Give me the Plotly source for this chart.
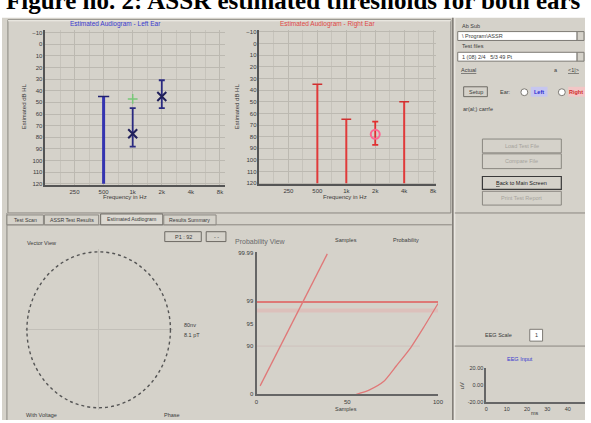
import math
import plotly.graph_objects as go

W, H = 591, 423

# ---------------- data ----------------
freq_labels = ["250", "500", "1k", "2k", "4k", "8k"]
freqs_hz = [250, 500, 1000, 2000, 4000, 8000]
half_octaves = [177, 354, 707, 1414, 2828, 5657]
db_ticks = [-10, 0, 10, 20, 30, 40, 50, 60, 70, 80, 90, 100, 110, 120]
db_floor = 120

# Left ear
left_nr_freqs = [500]
left_nr_levels = [45]
left_thr_freqs = [1000, 2000]
left_thr_levels = [77, 45]
left_err_plus = [11, 10]
left_err_minus = [22, 14]
left_aux_freqs = [1000]
left_aux_levels = [47]

# Right ear
right_nr_freqs = [500, 1000, 4000]
right_nr_levels = [35, 65, 50]
right_thr_freqs = [2000]
right_thr_levels = [78]
right_err_plus = [9]
right_err_minus = [11]

# Probability view
prob_ticktext = ["0", "90", "95", "99", "99.99"]
prob_tickvals = [0, 34, 50, 66, 100]
prob_x_ticks = [0, 50, 100]
samples_x = [2, 39]
samples_y = [6, 99]
curve_x = [55, 62, 70, 77, 85, 92, 100]
curve_y = [0, 3, 9, 20, 33, 47, 64]
prob_threshold = 65

# EEG input
eeg_y_ticks = [-20, 0, 20]
eeg_y_text = ["-20.00", "0.00", "20.00"]
eeg_x_ticks = [0, 10, 20, 30, 40, 50]

# Vector view
vector_radius = 0.97

# ---------------- helpers ----------------
def px(x):
    return x / W


def py(y):
    return 1 - y / H


def stems(xs, ys):
    sx, sy = [], []
    for x, y in zip(xs, ys):
        sx += [x, x, None]
        sy += [db_floor, y, None]
    return sx, sy


GREY = "#d5d2ca"
AX = "#555555"
TXT = "#3a3a3a"
FONT = "Liberation Sans"

fig = go.Figure()

# ---------- left audiogram ----------
sx, sy = stems(left_nr_freqs, left_nr_levels)
fig.add_trace(go.Scatter(x=sx, y=sy, mode="lines", line=dict(color="#3434b0", width=3),
                         xaxis="x", yaxis="y", hoverinfo="skip"))
fig.add_trace(go.Scatter(x=left_nr_freqs, y=left_nr_levels, mode="markers",
                         marker=dict(symbol="line-ew", size=8, line=dict(color="#202070", width=1.5)),
                         xaxis="x", yaxis="y"))
fig.add_trace(go.Scatter(x=left_aux_freqs, y=left_aux_levels, mode="markers",
                         marker=dict(symbol="cross-thin", size=7, line=dict(color="#78c878", width=1.5)),
                         xaxis="x", yaxis="y"))
fig.add_trace(go.Scatter(x=left_thr_freqs, y=left_thr_levels, mode="markers",
                         marker=dict(symbol="x-thin", size=9, line=dict(color="#20205a", width=2)),
                         error_y=dict(type="data", array=left_err_plus, arrayminus=left_err_minus,
                                      color="#2a2a80", thickness=1.8, width=3),
                         xaxis="x", yaxis="y"))

# ---------- right audiogram ----------
sx, sy = stems(right_nr_freqs, right_nr_levels)
fig.add_trace(go.Scatter(x=sx, y=sy, mode="lines", line=dict(color="#e03a3a", width=2),
                         xaxis="x2", yaxis="y2", hoverinfo="skip"))
fig.add_trace(go.Scatter(x=right_nr_freqs, y=right_nr_levels, mode="markers",
                         marker=dict(symbol="line-ew", size=7, line=dict(color="#d03030", width=1.5)),
                         xaxis="x2", yaxis="y2"))
fig.add_trace(go.Scatter(x=right_thr_freqs, y=right_thr_levels, mode="markers",
                         marker=dict(symbol="circle-open", size=9, line=dict(color="#e03030", width=2)),
                         error_y=dict(type="data", array=right_err_plus, arrayminus=right_err_minus,
                                      color="#e03030", thickness=1.8, width=3),
                         xaxis="x2", yaxis="y2"))

# ---------- probability view ----------
fig.add_trace(go.Scatter(x=[0, 100], y=[prob_threshold, prob_threshold], mode="lines",
                         line=dict(color="#e05a5a", width=1.5), xaxis="x3", yaxis="y3"))
fig.add_trace(go.Scatter(x=[0, 100], y=[prob_threshold - 6, prob_threshold - 6], mode="lines",
                         line=dict(color="rgba(235,160,160,0.35)", width=4), xaxis="x3", yaxis="y3"))
fig.add_trace(go.Scatter(x=[0, 90], y=[prob_tickvals[1], prob_tickvals[1]], mode="lines",
                         line=dict(color="rgba(200,170,170,0.45)", width=1), xaxis="x3", yaxis="y3"))
fig.add_trace(go.Scatter(x=samples_x, y=samples_y, mode="lines",
                         line=dict(color="#e07878", width=1.3), xaxis="x3", yaxis="y3"))
fig.add_trace(go.Scatter(x=curve_x, y=curve_y, mode="lines", line_shape="spline",
                         line=dict(color="#e07878", width=1.3, smoothing=0.6), xaxis="x3", yaxis="y3"))

# ---------- EEG input (empty) ----------
fig.add_trace(go.Scatter(x=[None], y=[None], mode="lines", xaxis="x4", yaxis="y4"))
# ---------- vector view anchor ----------
fig.add_trace(go.Scatter(x=[None], y=[None], mode="lines", xaxis="x5", yaxis="y5"))

tickfont = dict(family=FONT, size=6, color=TXT)
aud_x = dict(type="log", tickvals=freqs_hz, ticktext=freq_labels, showline=True, linecolor=AX,
             linewidth=1.5, showgrid=True, gridcolor="#bcb9b1", gridwidth=1, ticks="",
             tickfont=tickfont, zeroline=False,
             minor=dict(tickvals=half_octaves, showgrid=True, gridcolor="#c6c3bb", gridwidth=1))
aud_y = dict(tickvals=db_ticks, showline=True, linecolor=AX, linewidth=1.5, showgrid=True,
             gridcolor="#bcb9b1", gridwidth=1, ticks="", tickfont=tickfont, zeroline=False)

fig.update_layout(
    width=W, height=H, margin=dict(l=0, r=0, t=0, b=0),
    paper_bgcolor="white", plot_bgcolor="rgba(0,0,0,0)", showlegend=False,
    xaxis=dict(aud_x, domain=[px(44), px(226)], range=[math.log10(125), math.log10(9000)], anchor="y"),
    yaxis=dict(aud_y, domain=[py(185), py(27)], range=[121.3, -12.5], anchor="x"),
    xaxis2=dict(aud_x, domain=[px(261), px(440)], range=[math.log10(125), math.log10(8580)], anchor="y2"),
    yaxis2=dict(aud_y, domain=[py(184), py(27)], range=[121, -12], anchor="x2"),
    xaxis3=dict(domain=[px(258), px(442)], range=[0, 100], anchor="y3", showgrid=False, zeroline=False,
                showline=True, linecolor="#666666", linewidth=2, tickvals=prob_x_ticks,
                ticks="", tickfont=tickfont),
    yaxis3=dict(domain=[py(397), py(253)], range=[0, 100], anchor="x3", showgrid=False, zeroline=False,
                showline=True, linecolor="#666666", linewidth=2, tickvals=prob_tickvals,
                ticktext=prob_ticktext, ticks="", tickfont=tickfont),
    xaxis4=dict(domain=[px(491), px(591)], range=[0, 48.5], anchor="y4", showgrid=False, zeroline=False,
                showline=True, linecolor="#666666", linewidth=2, tickvals=eeg_x_ticks, ticks="",
                tickfont=dict(family=FONT, size=5.5, color=TXT)),
    yaxis4=dict(domain=[py(405), py(370)], range=[-20, 20], anchor="x4", showgrid=False, zeroline=False,
                showline=True, linecolor="#666666", linewidth=2, tickvals=eeg_y_ticks,
                ticktext=eeg_y_text, ticks="", tickfont=dict(family=FONT, size=5.5, color=TXT)),
    xaxis5=dict(domain=[px(23), px(173)], range=[-1, 1], anchor="y5", showgrid=False, showline=False,
                showticklabels=False, zeroline=True, zerolinecolor="#c2bfb8", zerolinewidth=1),
    yaxis5=dict(domain=[py(413), py(250)], range=[-1, 1], anchor="x5", showgrid=False, showline=False,
                showticklabels=False, zeroline=True, zerolinecolor="#c2bfb8", zerolinewidth=1),
)

shapes = []


def rect(x0, y0, x1, y1, fill=None, line="#808080", lw=1, layer="below"):
    shapes.append(dict(type="rect", xref="paper", yref="paper", x0=px(x0), x1=px(x1),
                       y0=py(y1), y1=py(y0), fillcolor=fill or "rgba(0,0,0,0)",
                       line=dict(color=line, width=lw), layer=layer))


def hline(x0, x1, y, color="#808080", lw=1):
    shapes.append(dict(type="line", xref="paper", yref="paper", x0=px(x0), x1=px(x1),
                       y0=py(y), y1=py(y), line=dict(color=color, width=lw), layer="below"))


def vline(x, y0, y1, color="#808080", lw=1):
    shapes.append(dict(type="line", xref="paper", yref="paper", x0=px(x), x1=px(x),
                       y0=py(y0), y1=py(y1), line=dict(color=color, width=lw), layer="below"))


# background window
rect(0, 15, 591, 423, fill=GREY, line="rgba(0,0,0,0)", lw=0)
# upper frame
rect(6, 17, 455, 213, line="#8a8780", lw=1)
hline(6, 455, 18, color="#f4f2ec")
vline(457, 15, 423, color="#7d7a74", lw=1.5)
vline(459, 15, 423, color="#f2f0ea", lw=1)
hline(459, 591, 213, color="#8a8780")
hline(459, 591, 348, color="#8a8780")
hline(5, 456, 225, color="#8a8780")
vline(5, 213, 423, color="#8a8780")

# right panel text boxes
rect(462, 29, 583, 38, fill="white", line="#7d7a74")
rect(583, 29, 590, 38, fill=GREY, line="#7d7a74")
rect(462, 50, 583, 59, fill="white", line="#7d7a74")
rect(583, 50, 590, 59, fill=GREY, line="#7d7a74")
rect(468, 85, 492, 95, fill=GREY, line="#6d6a64")
rect(536, 85, 553, 95, fill="#c6c6f0", line="rgba(0,0,0,0)", lw=0)
rect(574, 85, 591, 95, fill="#f3c6c6", line="rgba(0,0,0,0)", lw=0)
shapes.append(dict(type="circle", xref="paper", yref="paper", x0=px(526), x1=px(533), y0=py(94), y1=py(87),
                   fillcolor="white", line=dict(color="#7d7a74", width=1), layer="below"))
shapes.append(dict(type="circle", xref="paper", yref="paper", x0=px(564), x1=px(571), y0=py(94), y1=py(87),
                   fillcolor="white", line=dict(color="#7d7a74", width=1), layer="below"))
# buttons
rect(487, 138, 567, 152, fill=GREY, line="#8a8780")
rect(487, 153, 567, 168, fill=GREY, line="#8a8780")
rect(487, 176, 567, 189, fill=GREY, line="#3a3a3a", lw=1.2)
rect(487, 191, 567, 205, fill=GREY, line="#8a8780")
# tabs
rect(5, 215, 42, 225, fill=GREY, line="#8a8780")
rect(43, 215, 98, 225, fill=GREY, line="#8a8780")
rect(100, 214, 163, 225, fill="#dcd9d2", line="#6d6a64")
rect(164, 215, 217, 225, fill=GREY, line="#8a8780")
# small buttons lower area
rect(165, 232, 202, 242, fill=GREY, line="#6d6a64")
rect(207, 232, 227, 242, fill=GREY, line="#6d6a64")
rect(535, 331, 548, 343, fill="white", line="#7d7a74")

# vector view circle (data coords)
shapes.append(dict(type="circle", xref="x5", yref="y5", x0=-vector_radius, x1=vector_radius,
                   y0=-vector_radius, y1=vector_radius, line=dict(color="#555555", width=1.4, dash="dot")))

fig.update_layout(shapes=shapes)

ann = []


def text(t, x, y, size=6, color=TXT, xanchor="center", angle=0, family=FONT, bold=False):
    ann.append(dict(text=("<b>%s</b>" % t) if bold else t, x=px(x), y=py(y), xref="paper", yref="paper",
                    showarrow=False, xanchor=xanchor, yanchor="middle", textangle=angle,
                    font=dict(family=family, size=size, color=color)))


# figure caption (its top is cut off in the reference screenshot)
ann.append(dict(text="<b>Figure no. 2: ASSR estimated thresholds for both ears</b>", x=px(295.5), y=py(13),
                xref="paper", yref="paper", showarrow=False, xanchor="center", yanchor="bottom",
                font=dict(family="Liberation Serif", size=25, color="black")))

text("Estimated Audiogram - Left Ear", 115, 21, 6.5, "#3a3ad0")
text("Estimated Audiogram - Right Ear", 330, 21, 6.5, "#e04848")
text("Estimated dB HL", 22, 105, 6, TXT, angle=-90)
text("Estimated dB HL", 238, 105, 6, TXT, angle=-90)
text("Frequency in Hz", 125, 197, 6)
text("Frequency in Hz", 348, 197, 6)

text("Ab Sub", 464, 23, 5.5, xanchor="left")
text("\\ Program\\ASSR", 464, 33.5, 5.5, xanchor="left")
text("Test files", 464, 44, 5.5, xanchor="left")
text("1 (08) 2/4   5/3 49 Pt", 464, 54.5, 5.5, xanchor="left")
text("<u>Actual</u>", 463, 68, 5.5, xanchor="left")
text("a", 562, 68, 5.5)
text("<u>&lt;1|&gt;</u>", 579, 68, 5.5)
text("Setup", 480, 90, 5.5)
text("Ear:", 510, 90, 5.5)
text("Left", 544, 90, 5.5, "#2a2ad0", bold=True)
text("Right", 582, 90, 5.5, "#d02a2a", bold=True)
text("ar(al;) carrfe", 465, 108, 5.5, xanchor="left")
text("Load Test File", 527, 145, 5.5, "#a6a39c")
text("Compare File", 527, 160.5, 5.5, "#a6a39c")
text("<u>B</u>ack to Main Screen", 527, 182.5, 5.5, "#202020")
text("Print Test Report", 527, 198, 5.5, "#a6a39c")

text("Test Scan", 23.5, 220, 5.2)
text("ASSR Test Results", 70.5, 220, 5.2)
text("Estimated Audiogram", 131.5, 219.5, 5.2)
text("Results Summary", 190.5, 220, 5.2)
text("P1 : 92", 183.5, 237, 5.5)
text("- -", 217, 237, 5.5)

text("Vector View", 40, 243, 5.5)
text("80nv", 182, 327, 5.5, xanchor="left")
text("8.1 pT", 182, 337, 5.5, xanchor="left")
text("With Voltage", 40, 418, 5.5)
text("Phase", 172, 418, 5.5)

text("Probability View", 262, 242, 7, "#6a6a6a")
text("Samples", 349, 240, 5.5)
text("Probability", 410, 240, 5.5)
text("Samples", 349, 412, 5.5)

text("EEG Scale", 503, 337, 5.5)
text("1", 541.5, 337, 5.5)
text("EEG Input", 525, 361, 5.5, "#3a3ad0")
text("uV", 467, 388, 5.5, angle=-90)
text("ms", 540, 416, 5.5)

fig.update_layout(annotations=ann)

fig.write_html("out.html", config={"displayModeBar": False},
               post_script="document.body.style.margin='0';document.body.style.overflow='hidden';")
